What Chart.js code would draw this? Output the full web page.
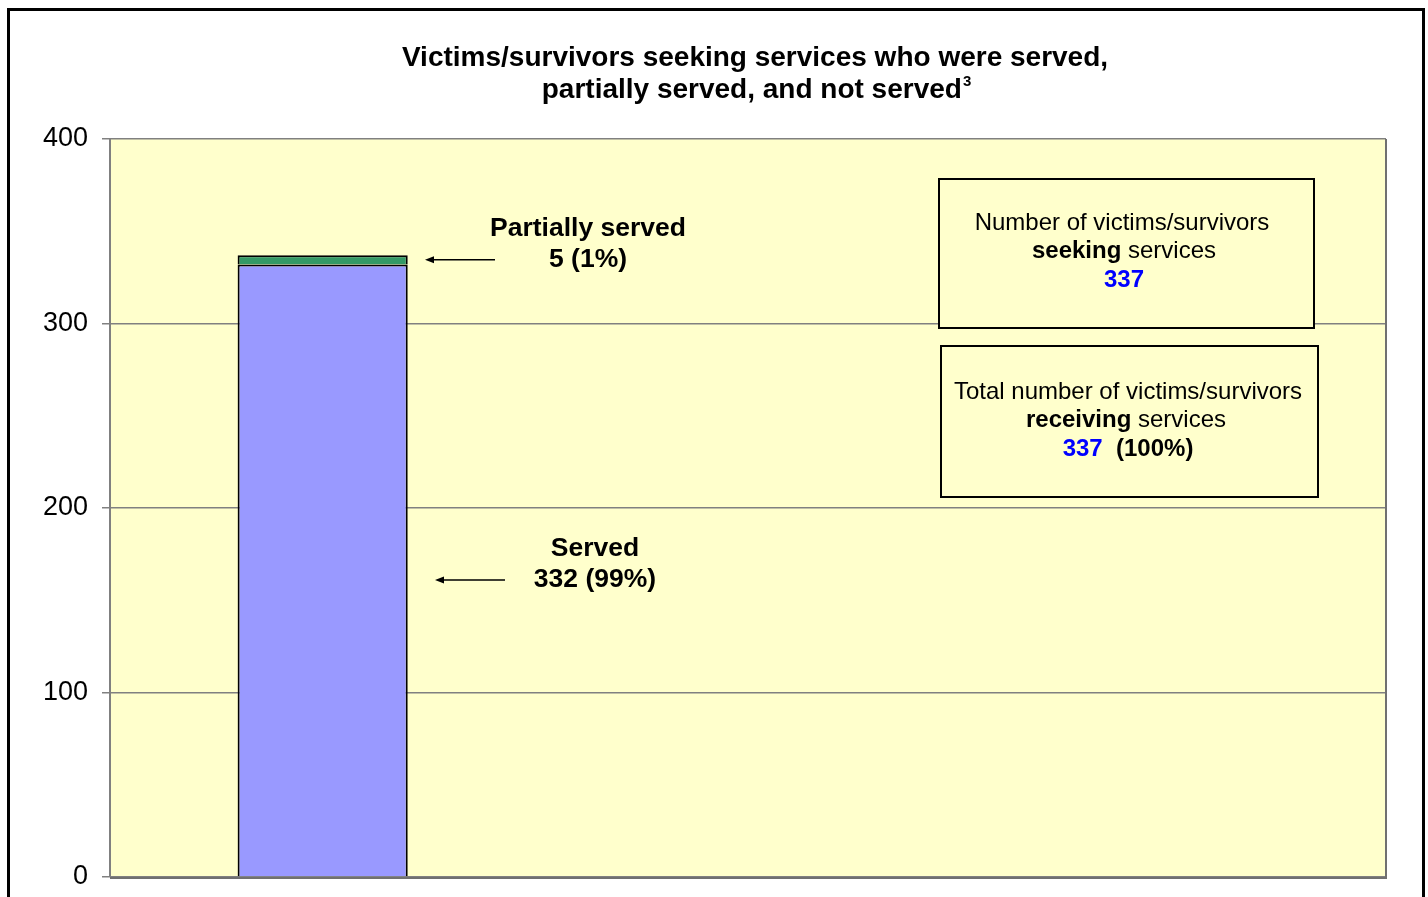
<!DOCTYPE html>
<html>
<head>
<meta charset="utf-8">
<script src="https://cdn.jsdelivr.net/npm/chart.js@4/dist/chart.umd.min.js"></script>
<style>
html,body{margin:0;padding:0;background:#fff;}
canvas{display:block;}
</style>
</head>
<body>
<canvas id="c" width="1428" height="897"></canvas>
<script>
const categories = ['', '', ''];
const servedValues = [332, null, null];
const partialValues = [5, null, null];
const yTicks = [0, 100, 200, 300, 400];
const titleLines = ['Victims/survivors seeking services who were served,', 'partially served, and not served'];
const seekingTotal = 337;
const receivingTotal = 337;
const receivingPct = '100%';
const servedPct = '99%';
const partialPct = '1%';

const FONT = '"Liberation Sans", Arial, sans-serif';

function drawRuns(ctx, runs, cx, cy) {
  let total = 0;
  runs.forEach(r => { ctx.font = r.font; r.w = ctx.measureText(r.text).width; total += r.w; });
  let x = cx - total / 2;
  ctx.textBaseline = 'middle';
  ctx.textAlign = 'left';
  runs.forEach(r => { ctx.font = r.font; ctx.fillStyle = r.color || '#000'; ctx.fillText(r.text, x, cy); x += r.w; });
}

function arrow(ctx, x1, x2, y) {
  ctx.save();
  ctx.strokeStyle = '#000';
  ctx.fillStyle = '#000';
  ctx.lineWidth = 1.5;
  ctx.beginPath();
  ctx.moveTo(x1, y);
  ctx.lineTo(x2 + 6, y);
  ctx.stroke();
  ctx.beginPath();
  ctx.moveTo(x2, y);
  ctx.lineTo(x2 + 9, y - 3.5);
  ctx.lineTo(x2 + 9, y + 3.5);
  ctx.closePath();
  ctx.fill();
  ctx.restore();
}

const decor = {
  id: 'decor',
  beforeDraw(chart) {
    const ctx = chart.ctx, a = chart.chartArea;
    ctx.save();
    ctx.fillStyle = '#fff';
    ctx.fillRect(0, 0, chart.width, chart.height);
    ctx.fillStyle = '#FFFFCC';
    ctx.fillRect(a.left, a.top, a.right - a.left, a.bottom - a.top);
    ctx.strokeStyle = '#000';
    ctx.lineWidth = 3;
    ctx.strokeRect(8.5, 9.5, 1415, 1000);
    ctx.restore();
  },
  beforeDatasetsDraw(chart) {
    const ctx = chart.ctx, a = chart.chartArea;
    ctx.save();
    ctx.strokeStyle = '#707070';
    ctx.lineWidth = 2;
    ctx.beginPath();
    ctx.moveTo(a.right, a.top);
    ctx.lineTo(a.right, a.bottom + 1);
    ctx.lineTo(a.left, a.bottom + 1);
    ctx.stroke();
    ctx.restore();
  },
  afterDraw(chart) {
    const ctx = chart.ctx;
    const ys = chart.scales.y;
    ctx.save();
    const tf = 'bold 28px ' + FONT;
    drawRuns(ctx, [{text: titleLines[0], font: tf}], 755, 58);
    ctx.font = tf;
    const w2 = ctx.measureText(titleLines[1]).width;
    const sf = 'bold 15px ' + FONT;
    ctx.font = sf;
    const ws = ctx.measureText('3').width;
    const tx = 756 - (w2 + ws) / 2;
    ctx.font = tf; ctx.fillStyle = '#000'; ctx.textAlign = 'left'; ctx.textBaseline = 'middle';
    ctx.fillText(titleLines[1], tx, 90);
    ctx.font = sf;
    ctx.fillText('3', tx + w2 + 1, 82);

    const lf = 'bold 26.5px ' + FONT;
    const partialMid = ys.getPixelForValue(servedValues[0] + partialValues[0] / 2);
    drawRuns(ctx, [{text: 'Partially served', font: lf}], 588, 229);
    drawRuns(ctx, [{text: partialValues[0] + ' (' + partialPct + ')', font: lf}], 588, 260);
    arrow(ctx, 495, 425, partialMid);

    drawRuns(ctx, [{text: 'Served', font: lf}], 595, 549);
    drawRuns(ctx, [{text: servedValues[0] + ' (' + servedPct + ')', font: lf}], 595, 580);
    arrow(ctx, 505, 435, 580);

    ctx.fillStyle = '#FFFFCC';
    ctx.strokeStyle = '#000';
    ctx.lineWidth = 2;
    ctx.fillRect(939, 179, 375, 149);
    ctx.strokeRect(939, 179, 375, 149);
    ctx.fillRect(941, 346, 377, 151);
    ctx.strokeRect(941, 346, 377, 151);

    const rf = '24px ' + FONT;
    const bf = 'bold 24px ' + FONT;
    const nf = 'bold 24px ' + FONT;
    drawRuns(ctx, [{text: 'Number of victims/survivors', font: rf}], 1122, 223);
    drawRuns(ctx, [{text: 'seeking', font: bf}, {text: ' services', font: rf}], 1124, 251);
    drawRuns(ctx, [{text: String(seekingTotal), font: nf, color: '#0000FF'}], 1124, 280);

    drawRuns(ctx, [{text: 'Total number of victims/survivors', font: rf}], 1128, 392);
    drawRuns(ctx, [{text: 'receiving', font: bf}, {text: ' services', font: rf}], 1126, 420);
    drawRuns(ctx, [{text: String(receivingTotal), font: nf, color: '#0000FF'}, {text: '  (' + receivingPct + ')', font: nf}], 1128, 449);
    ctx.restore();
  }
};

new Chart(document.getElementById('c'), {
  type: 'bar',
  data: {
    labels: categories,
    datasets: [
      {label: 'Served', data: servedValues, backgroundColor: '#9999FF', borderColor: '#000', borderWidth: 2, barPercentage: 0.4, categoryPercentage: 1.0},
      {label: 'Partially served', data: partialValues, backgroundColor: '#339966', borderColor: '#000', borderWidth: 2, barPercentage: 0.4, categoryPercentage: 1.0}
    ]
  },
  options: {
    responsive: false,
    animation: false,
    events: [],
    layout: {padding: {left: 0, top: 139, right: 42, bottom: 20}},
    plugins: {legend: {display: false}, title: {display: false}, tooltip: {enabled: false}},
    scales: {
      x: {stacked: true, display: false},
      y: {
        stacked: true, min: 0, max: 400,
        afterFit(s) { s.width = 110; s.paddingTop = 0; s.paddingBottom = 0; },
        afterBuildTicks(s) { s.ticks = yTicks.map(v => ({value: v})); },
        ticks: {stepSize: 100, color: '#000', font: {family: FONT, size: 27}, padding: 14},
        grid: {color: '#808080', lineWidth: 1.5, tickLength: 8},
        border: {display: true, color: '#808080', width: 2}
      }
    }
  },
  plugins: [decor]
});
</script>
</body>
</html>
